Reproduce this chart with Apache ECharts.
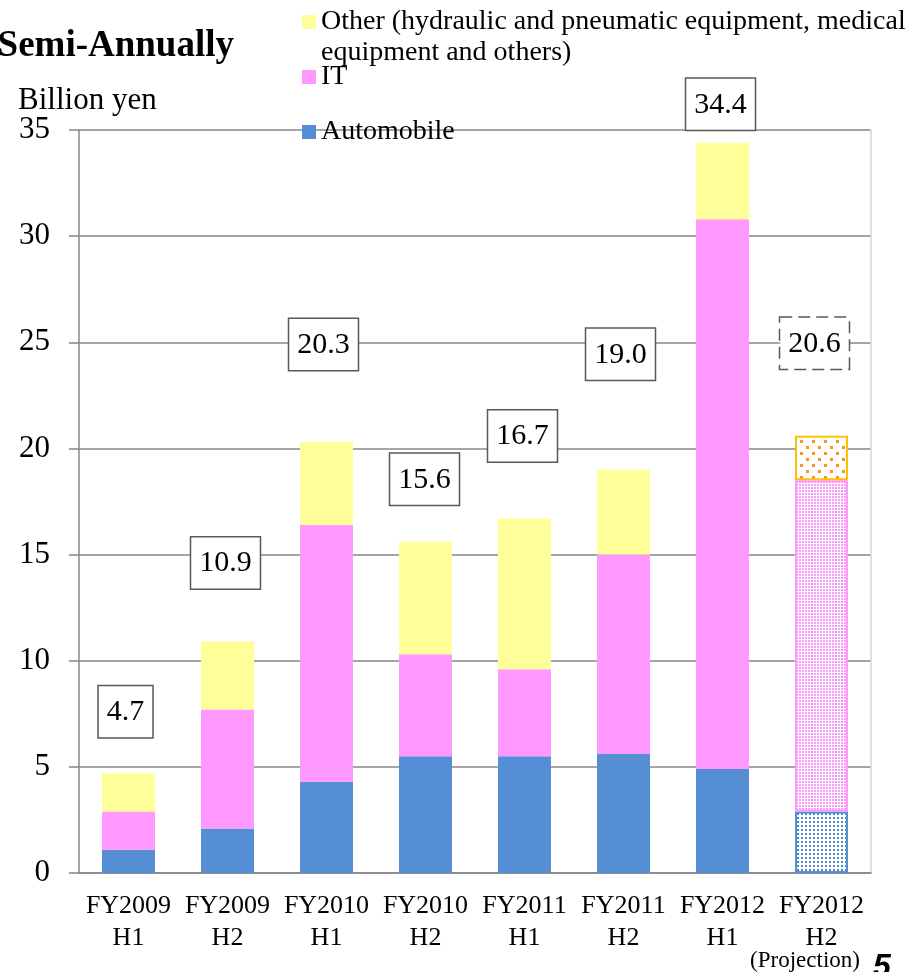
<!DOCTYPE html>
<html>
<head>
<meta charset="utf-8">
<script src="https://cdn.jsdelivr.net/npm/echarts@6/dist/echarts.min.js"></script>
<style>
  html, body { margin: 0; padding: 0; background: #fff; }
  #chart { width: 915px; height: 972px; }
</style>
</head>
<body>
<div id="chart"></div>
<script>
// Net sales by application, semi-annual (billion yen)
const categories = ['FY2009\nH1', 'FY2009\nH2', 'FY2010\nH1', 'FY2010\nH2', 'FY2011\nH1', 'FY2011\nH2', 'FY2012\nH1', 'FY2012\nH2'];
const automobile = [1.1, 2.1, 4.3, 5.5, 5.5, 5.6, 4.9, 2.9];
const it         = [1.8, 5.6, 12.1, 4.8, 4.1, 9.4, 25.9, 15.6];
const other      = [1.8, 3.2, 3.9, 5.3, 7.1, 4.0, 3.6, 2.1];
const totals     = [4.7, 10.9, 20.3, 15.6, 16.7, 19.0, 34.4, 20.6];
const projectionIndex = 7;

// total-box placement above each stack (pixels)
const boxLift  = [36, 53, 72, 37, 57, 90, 13, 67];
const boxShift = [-3, -2, -3, -1, -2, -3, -2, -7];

const SERIF = '"Liberation Serif", "Times New Roman", serif';
const BLUE = '#558ED5', PINK = '#FF99FF', YELLOW = '#FFFF99';

function dotPattern(w, h, dots, color) {
  const c = document.createElement('canvas');
  c.width = w; c.height = h;
  const g = c.getContext('2d');
  g.fillStyle = '#ffffff';
  g.fillRect(0, 0, w, h);
  g.fillStyle = color;
  dots.forEach(([x, y, dw, dh]) => g.fillRect(x, y, dw, dh));
  return { image: c, repeat: 'repeat' };
}

// projected half-year: dotted fills with solid outlines
const projStyles = {
  automobile: { color: dotPattern(4, 4, [[1, 1, 2, 2]], '#4F86D2'), borderColor: BLUE, borderWidth: 2 },
  it: { color: dotPattern(3, 3, [[1, 1, 2, 2]], '#FA9AFA'), borderColor: PINK, borderWidth: 2 },
  other: { color: dotPattern(12, 12, [[2, 2, 3, 3], [8, 8, 3, 3]], '#F7941D'), borderColor: '#FFC000', borderWidth: 2 }
};

function seriesData(values, key) {
  return values.map((v, i) => i === projectionIndex ? { value: v, itemStyle: projStyles[key] } : v);
}

const OTHER_NAME = 'Other (hydraulic and pneumatic equipment, medical equipment and others)';

const chart = echarts.init(document.getElementById('chart'), null, { renderer: 'canvas' });

const legendBase = {
  orient: 'vertical',
  left: 302,
  padding: 0,
  icon: 'rect',
  itemWidth: 14,
  itemHeight: 14,
  selectedMode: false,
  textStyle: { fontFamily: SERIF, fontSize: 28, color: '#000', lineHeight: 30 }
};

const option = {
  animation: false,
  backgroundColor: '#fff',
  textStyle: { fontFamily: SERIF },
  grid: { left: 79, right: 44, top: 130, bottom: 99, containLabel: false },
  legend: [
    Object.assign({}, legendBase, {
      top: 7,
      data: [OTHER_NAME],
      formatter: () => 'Other (hydraulic and pneumatic equipment, medical'
    }),
    Object.assign({}, legendBase, { top: 62, data: ['IT'] }),
    Object.assign({}, legendBase, { top: 117, data: ['Automobile'] })
  ],
  xAxis: {
    type: 'category',
    data: categories,
    axisLine: { show: true, lineStyle: { color: '#878787', width: 1.5 } },
    axisTick: { show: false },
    axisLabel: { fontFamily: SERIF, fontSize: 26, color: '#000', lineHeight: 32, margin: 17, interval: 0 }
  },
  yAxis: [
    {
      type: 'value', min: 0, max: 35, interval: 5,
      axisLine: { show: true, lineStyle: { color: '#878787', width: 1.5 } },
      axisTick: { show: true, length: 10, lineStyle: { color: '#878787', width: 1.5 } },
      axisLabel: { fontFamily: SERIF, fontSize: 31, color: '#000', margin: 29 },
      splitLine: { show: true, lineStyle: { color: '#878787', width: 1.5 } }
    },
    {
      type: 'value', min: 0, max: 35, interval: 5, position: 'right',
      axisLine: { show: true, lineStyle: { color: '#d6d6d6', width: 1.5 } },
      axisTick: { show: false }, axisLabel: { show: false }, splitLine: { show: false }
    }
  ],
  series: [
    {
      name: 'Automobile', type: 'bar', stack: 'total', barWidth: 53,
      itemStyle: { color: BLUE },
      data: seriesData(automobile, 'automobile')
    },
    {
      name: 'IT', type: 'bar', stack: 'total', barWidth: 53,
      itemStyle: { color: PINK },
      data: seriesData(it, 'it')
    },
    {
      name: OTHER_NAME, type: 'bar', stack: 'total', barWidth: 53,
      itemStyle: { color: YELLOW },
      data: seriesData(other, 'other').map((d, i) => {
        const item = typeof d === 'object' ? d : { value: d };
        item.label = {
          show: true,
          position: 'top',
          distance: 0,
          offset: [boxShift[i], -boxLift[i]],
          formatter: totals[i].toFixed(1),
          fontFamily: SERIF,
          fontSize: 30,
          color: '#000',
          backgroundColor: '#fff',
          borderColor: '#595959',
          borderWidth: 1.5,
          borderType: i === projectionIndex ? 'dashed' : 'solid',
          padding: [11, 8, 10, 8]
        };
        return item;
      })
    }
  ],
  graphic: [
    {
      type: 'text', x: 234, y: 46,
      style: { text: 'Semi-Annually', font: 'bold 37px ' + SERIF, fill: '#000', align: 'right', textAlign: 'right', verticalAlign: 'middle', textVerticalAlign: 'middle' }
    },
    {
      type: 'text', x: 321, y: 53,
      style: { text: 'equipment and others)', font: '28px ' + SERIF, fill: '#000', align: 'left', textAlign: 'left', verticalAlign: 'middle', textVerticalAlign: 'middle' }
    },
    {
      type: 'text', x: 18, y: 101,
      style: { text: 'Billion yen', font: '31px ' + SERIF, fill: '#000', align: 'left', textAlign: 'left', verticalAlign: 'middle', textVerticalAlign: 'middle' }
    },
    {
      type: 'text', x: 805, y: 961,
      style: { text: '(Projection)', font: '23px ' + SERIF, fill: '#000', align: 'center', textAlign: 'center', verticalAlign: 'middle', textVerticalAlign: 'middle' }
    },
    {
      type: 'text', x: 873, y: 951,
      style: { text: '5', font: 'italic bold 32px "Liberation Sans", Arial, sans-serif', fill: '#000', align: 'left', textAlign: 'left', verticalAlign: 'top', textVerticalAlign: 'top' }
    }
  ]
};

chart.setOption(option);
</script>
</body>
</html>
